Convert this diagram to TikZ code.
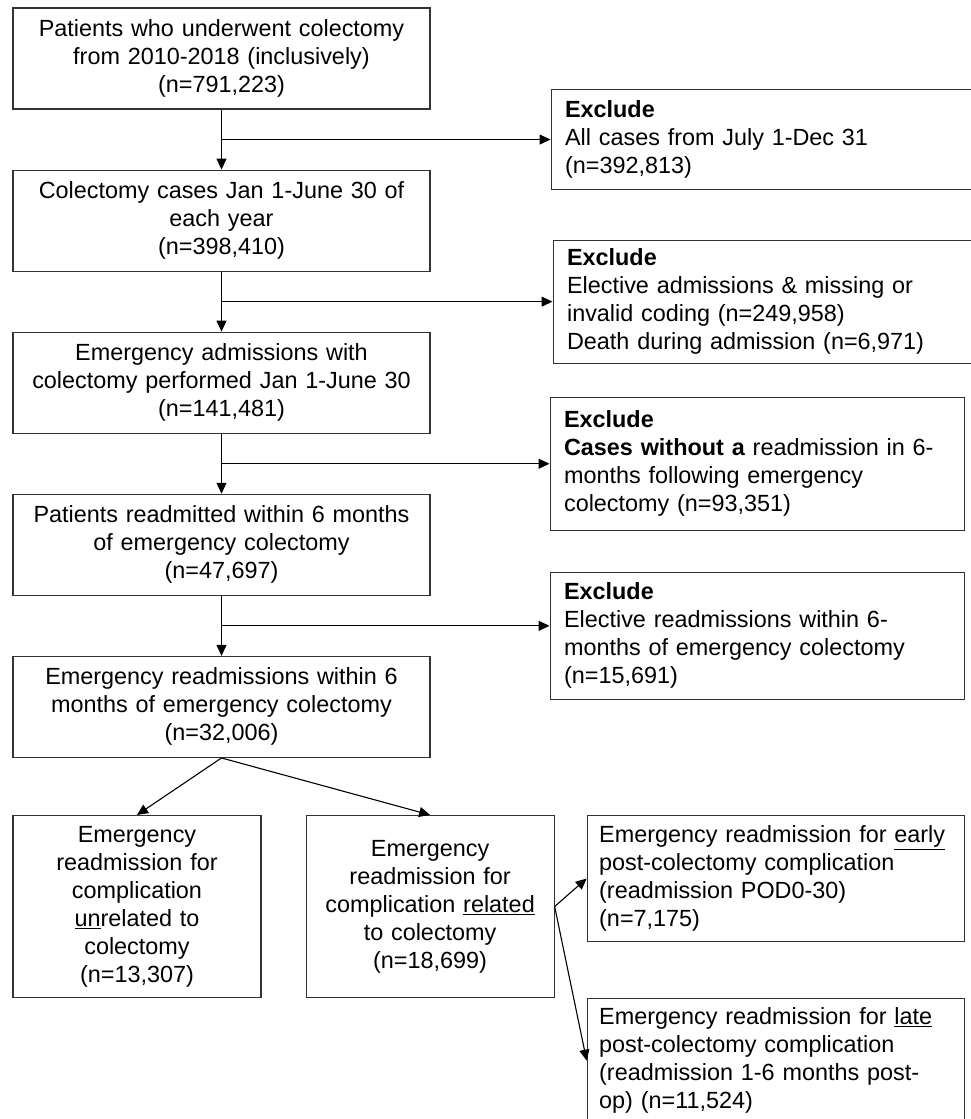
\documentclass[tikz,border=0pt]{standalone}
\usepackage{fontspec}
\setmainfont{Liberation Sans}
\usetikzlibrary{arrows.meta, positioning}

\newcommand{\flowfont}{\fontsize{23.4pt}{28pt}\selectfont}

\begin{document}
\begin{tikzpicture}[
mainbox/.style={rectangle, draw=black!80, line width=1.1pt, text width=400pt,
inner xsep=8.5pt, minimum height=101pt, align=center, font=\flowfont},
exbox/.style={rectangle, draw=black!80, line width=1.1pt, inner xsep=14pt,
align=left, font=\flowfont},
subbox/.style={rectangle, draw=black!80, line width=1.1pt, text width=230pt,
inner xsep=9pt, minimum height=182pt, align=center, font=\flowfont},
splitbox/.style={rectangle, draw=black!80, line width=1.1pt, text width=353pt,
inner xsep=12pt, align=left, anchor=north west, font=\flowfont},
arr/.style={-{Triangle[length=11pt,width=10pt]}, line width=1.1pt},
node distance=60pt
]
\useasboundingbox (0,0) rectangle (971pt,-1119pt);

% main chain
\node[mainbox] (all) at (221.5pt,-58.5pt) {Patients who underwent colectomy\\from 2010-2018 (inclusively)\\(n=791,223)};
\node[mainbox, below=of all] (janjun) {Colectomy cases Jan 1-June 30 of\\each year\\(n=398,410)};
\node[mainbox, below=of janjun] (emerg) {Emergency admissions with\\colectomy performed Jan 1-June 30\\(n=141,481)};
\node[mainbox, below=of emerg] (readm) {Patients readmitted within 6 months\\of emergency colectomy\\(n=47,697)};
\node[mainbox, below=of readm] (ereadm) {Emergency readmissions within 6\\months of emergency colectomy\\(n=32,006)};

% branch points
\coordinate[below=30pt of all] (j1);
\coordinate[below=30pt of janjun] (j2);
\coordinate[below=30pt of emerg] (j3);
\coordinate[below=30pt of readm] (j4);

% exclusions
\node[exbox, text width=401pt, minimum height=100pt, right=329pt of j1] (ex1) {\textbf{Exclude}\\All cases from July 1-Dec 31\\(n=392,813)};
\node[exbox, text width=401pt, minimum height=123pt, right=331pt of j2] (ex2) {\textbf{Exclude}\\Elective admissions \& missing or\\invalid coding (n=249,958)\\Death during admission (n=6,971)};
\node[exbox, text width=386pt, minimum height=133pt, right=328pt of j3] (ex3) {\textbf{Exclude}\\\textbf{Cases without a} readmission in 6-\\months following emergency\\colectomy (n=93,351)};
\node[exbox, text width=386pt, minimum height=127pt, right=328pt of j4, yshift=-10pt] (ex4) {\textbf{Exclude}\\Elective readmissions within 6-\\months of emergency colectomy\\(n=15,691)};

% split of emergency readmissions
\node[subbox, anchor=north west] (unrel) at ([yshift=-57pt]ereadm.south west) {Emergency\\readmission for\\complication\\\underline{un}related to\\colectomy\\(n=13,307)};
\node[subbox, right=44pt of unrel] (rel) {Emergency\\readmission for\\complication \underline{related}\\to colectomy\\(n=18,699)};
\node[splitbox, minimum height=126pt] (early) at ([xshift=32pt]rel.north east) {Emergency readmission for \underline{early}\\post-colectomy complication\\(readmission POD0-30)\\(n=7,175)};
\node[splitbox, minimum height=124pt] (late) at ([yshift=-56pt]early.south west) {Emergency readmission for \underline{late}\\post-colectomy complication\\(readmission 1-6 months post-\\op) (n=11,524)};

\draw[arr] (all) -- (janjun);
\draw[arr] (janjun) -- (emerg);
\draw[arr] (emerg) -- (readm);
\draw[arr] (readm) -- (ereadm);

\draw[arr] (j1) -- (ex1);
\draw[arr] (j2) -- (ex2);
\draw[arr] (j3) -- (ex3);
\draw[arr] (j4) -- (j4 -| ex4.west);

\draw[arr] (ereadm.south) -- (unrel.north);
\draw[arr] (ereadm.south) -- (rel.north);
\draw[arr] (rel.east) -- (early.west);
\draw[arr] (rel.east) -- (late.west);
\end{tikzpicture}
\end{document}
